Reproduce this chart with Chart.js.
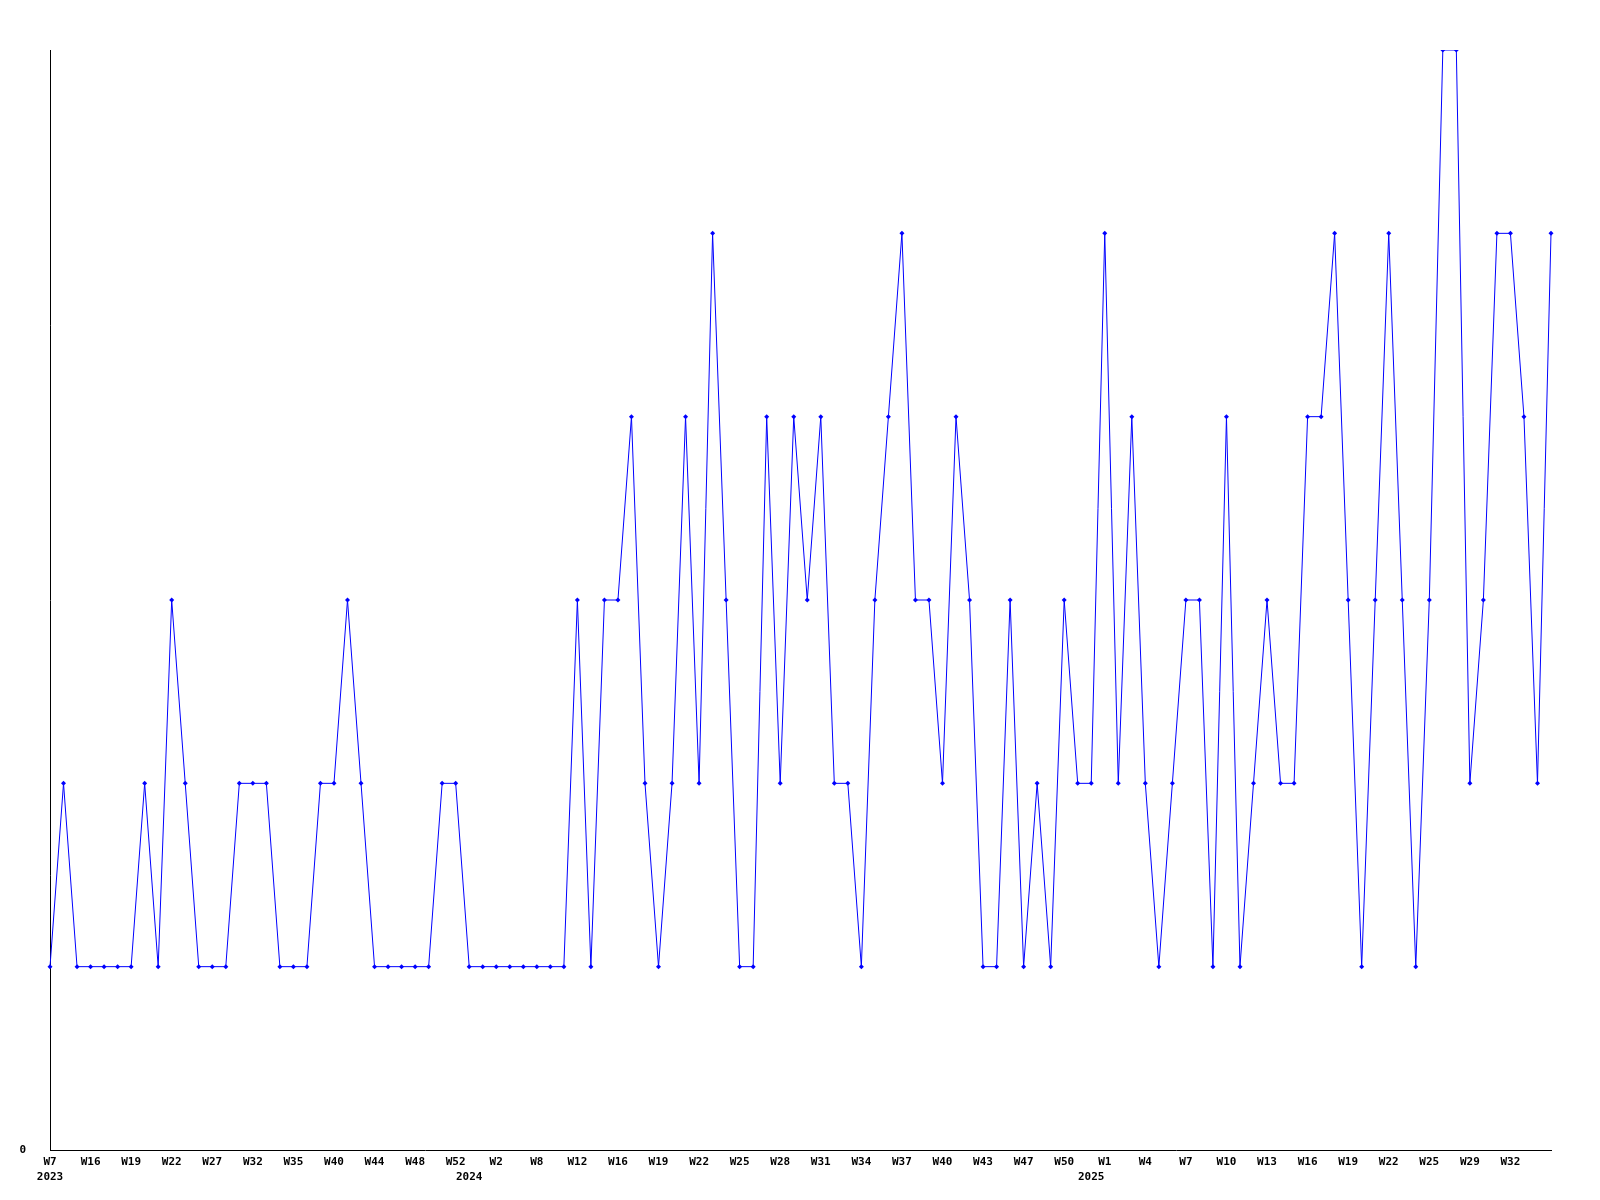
<!DOCTYPE html>
<html>
<head>
<meta charset="utf-8">
<script src="https://cdn.jsdelivr.net/npm/chart.js@4/dist/chart.umd.min.js"></script>
<style>
  html, body { margin: 0; padding: 0; background: #fff; }
  #wrap { width: 1600px; height: 1200px; }
</style>
</head>
<body>
<div id="wrap"><canvas id="chart"></canvas></div>
<script>
// weekly counts, one point per week that has data
const weeks = [
  "W7", "W10", "W14", "W16", "W17", "W18", "W19", "W20", "W21", "W22",
  "W24", "W25", "W27", "W29", "W31", "W32", "W33", "W34", "W35", "W37",
  "W38", "W40", "W41", "W43", "W44", "W45", "W47", "W48", "W49", "W50",
  "W52", "W0", "W1", "W2", "W4", "W6", "W8", "W10", "W11", "W12",
  "W13", "W15", "W16", "W17", "W18", "W19", "W20", "W21", "W22", "W23",
  "W24", "W25", "W26", "W27", "W28", "W29", "W30", "W31", "W32", "W33",
  "W34", "W35", "W36", "W37", "W38", "W39", "W40", "W41", "W42", "W43",
  "W44", "W46", "W47", "W48", "W49", "W50", "W51", "W0", "W1", "W2",
  "W3", "W4", "W5", "W6", "W7", "W8", "W9", "W10", "W11", "W12",
  "W13", "W14", "W15", "W16", "W17", "W18", "W19", "W20", "W21", "W22",
  "W23", "W24", "W25", "W26", "W27", "W29", "W30", "W31", "W32", "W33",
  "W34", "W35"
];
// first week of each year carries the year label
const yearStarts = { 0: "2023", 31: "2024", 77: "2025" };

const counts = [
  1, 2, 1, 1, 1, 1, 1, 2, 1, 3,
  2, 1, 1, 1, 2, 2, 2, 1, 1, 1,
  2, 2, 3, 2, 1, 1, 1, 1, 1, 2,
  2, 1, 1, 1, 1, 1, 1, 1, 1, 3,
  1, 3, 3, 4, 2, 1, 2, 4, 2, 5,
  3, 1, 1, 4, 2, 4, 3, 4, 2, 2,
  1, 3, 4, 5, 3, 3, 2, 4, 3, 1,
  1, 3, 1, 2, 1, 3, 2, 2, 5, 2,
  4, 2, 1, 2, 3, 3, 1, 4, 1, 2,
  3, 2, 2, 4, 4, 5, 3, 1, 3, 5,
  3, 1, 3, 6, 6, 2, 3, 5, 5, 4,
  2, 5
];

const FONT = { family: "'DejaVu Sans Mono', monospace", size: 11, weight: "bold", lineHeight: 15 / 11 };
const BLUE = "#0000ff";

function tickLabel(i) {
  // every third week is labelled, the last point has no room for one
  const wk = i % 3 === 0 && i < weeks.length - 1 ? weeks[i] : "";
  const yr = yearStarts[i] || "";
  return yr ? [wk, yr] : wk;
}

new Chart(document.getElementById("chart"), {
  type: "line",
  data: {
    labels: weeks,
    datasets: [{
      data: counts,
      borderColor: BLUE,
      backgroundColor: BLUE,
      borderWidth: 1,
      tension: 0,
      pointStyle: "rectRot",
      pointRadius: 2.5,
      pointBorderWidth: 0,
    }],
  },
  options: {
    responsive: true,
    maintainAspectRatio: false,
    animation: false,
    layout: { padding: { top: 50, right: 49, bottom: 0, left: 0 } },
    plugins: { legend: { display: false }, tooltip: { enabled: false } },
    scales: {
      x: {
        grid: { display: false, drawTicks: false },
        border: { display: true, color: "#000", width: 1 },
        ticks: {
          autoSkip: false, maxRotation: 0, color: "#000", font: FONT, padding: 4.5,
          callback: (v, i) => tickLabel(i),
        },
        afterFit: (s) => { s.height = 50; },
      },
      y: {
        min: 0,
        max: 6,
        grid: { display: false, drawTicks: false },
        border: { display: true, color: "#000", width: 1 },
        afterBuildTicks: (s) => { s.ticks = [{ value: 0 }]; },
        ticks: { color: "#000", font: FONT, padding: 24 },
        afterFit: (s) => { s.width = 50; },
      },
    },
  },
});
</script>
</body>
</html>
